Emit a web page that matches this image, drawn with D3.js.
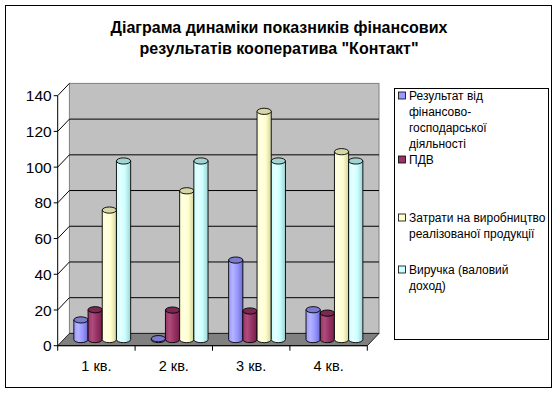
<!DOCTYPE html>
<html><head><meta charset="utf-8">
<script src="https://cdn.jsdelivr.net/npm/d3@7"></script>
<style>
html,body{margin:0;padding:0;background:#fff;}
svg{display:block;font-family:Arial,"Liberation Sans",sans-serif;}
</style></head>
<body><svg id="c" width="559" height="393"></svg>
<script>
const titleLines = ["Діаграма динаміки показників фінансових", "результатів кооператива \"Контакт\""];
const categories = ["1 кв.", "2 кв.", "3 кв.", "4 кв."];
const seriesNames = ["Результат від фінансово-господарської діяльності", "ПДВ", "Затрати на виробництво реалізованої продукції", "Виручка (валовий доход)"];
const legendLines = [["Результат від", "фінансово-", "господарської", "діяльності"], ["ПДВ"], ["Затрати на виробництво", "реалізованої продукції"], ["Виручка (валовий", "доход)"]];
const resultValues = [11, 0.5, 44.5, 16.7];
const vatValues = [16.7, 16.5, 16, 14.8];
const costValues = [72.5, 83.3, 127.8, 105.2];
const revenueValues = [100, 100, 100, 100];
const yTicks = [0, 20, 40, 60, 80, 100, 120, 140];
const seriesValues = [resultValues, vatValues, costValues, revenueValues];

const colors = [
  {base:"#9999ff", light:"#b4b4ff", dark:"#6c6cd4", top:"#7b7bd0"},
  {base:"#993366", light:"#ad4d7c", dark:"#72204a", top:"#7a2952"},
  {base:"#ffffcc", light:"#ffffe6", dark:"#d4d4a4", top:"#d6d6a6"},
  {base:"#ccffff", light:"#e6ffff", dark:"#a0d4d4", top:"#a3d4d4"}
];

const svg = d3.select("#c");
const defs = svg.append("defs");
colors.forEach((c,i)=>{
  const g = defs.append("linearGradient").attr("id","g"+i).attr("x1","0").attr("x2","1").attr("y1","0").attr("y2","0");
  g.append("stop").attr("offset","0").attr("stop-color",c.base);
  g.append("stop").attr("offset","0.3").attr("stop-color",c.light);
  g.append("stop").attr("offset","0.6").attr("stop-color",c.base);
  g.append("stop").attr("offset","1").attr("stop-color",c.dark);
});

// outer border
svg.append("rect").attr("x",5.5).attr("y",5.5).attr("width",546).attr("height",382)
  .attr("fill","#fff").attr("stroke","#000").attr("stroke-width",1);

// title
svg.append("g").selectAll("text").data(titleLines).join("text")
  .attr("x",279).attr("y",(d,i)=>32.5+i*21.5).attr("text-anchor","middle")
  .attr("font-size","16px").attr("font-weight","bold").text(d=>d);

const X0 = 57.7, X1 = 367.3, DX = 11.7, DY = -12.3;
const y = d3.scaleLinear().domain([0,140]).range([345.7,95.7]);
const x0 = d3.scaleBand().domain(categories).range([X0,X1]).padding(0);
const x1 = d3.scaleBand().domain(d3.range(seriesNames.length)).range([0,x0.bandwidth()]).paddingInner(0).paddingOuter(0.725);

const plot = svg.append("g");
// side wall
plot.append("path").attr("d",`M${X0},${y(0)} L${X0},${y(140)} L${X0+DX},${y(140)+DY} L${X0+DX},${y(0)+DY} Z`)
  .attr("fill","#fff").attr("stroke","none");
// back wall
plot.append("rect").attr("x",X0+DX).attr("y",y(140)+DY).attr("width",X1-X0).attr("height",y(0)-y(140))
  .attr("fill","#c0c0c0").attr("stroke","#808080");
// gridlines back + side diagonals
yTicks.filter(t=>t>0).forEach(t=>{
  if (t<140) plot.append("line").attr("x1",X0+DX).attr("x2",X1+DX).attr("y1",y(t)+DY).attr("y2",y(t)+DY).attr("stroke","#000");
  plot.append("line").attr("x1",X0).attr("x2",X0+DX).attr("y1",y(t)).attr("y2",y(t)+DY).attr("stroke","#000");
});
// floor
plot.append("path").attr("d",`M${X0},${y(0)} L${X1},${y(0)} L${X1+DX},${y(0)+DY} L${X0+DX},${y(0)+DY} Z`)
  .attr("fill","#808080").attr("stroke","#000").attr("stroke-width",0.8);

// y axis
const ax = plot.append("g");
ax.append("line").attr("x1",X0).attr("x2",X0).attr("y1",y(0)).attr("y2",y(140)).attr("stroke","#000");
ax.selectAll("line.t").data(yTicks).join("line").attr("class","t")
  .attr("x1",X0-4).attr("x2",X0).attr("y1",d=>y(d)).attr("y2",d=>y(d)).attr("stroke","#000");
ax.selectAll("text").data(yTicks).join("text")
  .attr("x",X0-6).attr("y",d=>y(d)).attr("dy","0.36em").attr("text-anchor","end")
  .attr("font-size","15.5px").text(d=>d);
// x axis
const bx = plot.append("g");
bx.append("line").attr("x1",X0).attr("x2",X1).attr("y1",y(0)).attr("y2",y(0)).attr("stroke","#000");
bx.selectAll("line.t").data(categories.concat(["end"])).join("line").attr("class","t")
  .attr("x1",(d,i)=>X0+i*x0.step()).attr("x2",(d,i)=>X0+i*x0.step())
  .attr("y1",y(0)).attr("y2",y(0)+5).attr("stroke","#000");
bx.selectAll("text").data(categories).join("text")
  .attr("x",d=>x0(d)+x0.bandwidth()/2).attr("y",y(0)+20).attr("dy","0.36em")
  .attr("text-anchor","middle").attr("font-size","14.5px").text(d=>d);

// cylinders
const ry = 3.1;
const bars = [];
categories.forEach((c,ci)=>{
  seriesValues.forEach((vals,si)=>{
    bars.push({c, ci, si, v: vals[ci]});
  });
});
const bg = plot.append("g");
bars.forEach(b=>{
  const w = x1.bandwidth();
  const left = x0(b.c) + x1(b.si) + DX/2;
  const cx = left + w/2, rx = w/2;
  const base = y(0) + DY/2, top = y(b.v) + DY/2;
  const g = bg.append("g");
  g.append("path").attr("d",`M${left},${top} L${left},${base} A${rx},${ry} 0 0 0 ${left+w},${base} L${left+w},${top} Z`)
    .attr("fill",`url(#g${b.si})`).attr("stroke","#000").attr("stroke-width",0.9);
  g.append("ellipse").attr("cx",cx).attr("cy",top).attr("rx",rx).attr("ry",ry)
    .attr("fill",colors[b.si].top).attr("stroke","#000").attr("stroke-width",0.9);
});

// legend
const LX = 394.5, LY = 88.5, LW = 154, LH = 251;
const lg = svg.append("g");
lg.append("rect").attr("x",LX).attr("y",LY).attr("width",LW).attr("height",LH).attr("fill","#fff").attr("stroke","#000");
const entryY = [95.5, 159.5, 217.5, 269.5];
legendLines.forEach((lines,i)=>{
  lg.append("rect").attr("x",398.5).attr("y",entryY[i]-3.5).attr("width",7).attr("height",7)
    .attr("fill",colors[i].base).attr("stroke","#000").attr("stroke-width",0.8);
  lines.forEach((t,j)=>{
    lg.append("text").attr("x",409).attr("y",entryY[i]+j*16).attr("dy","0.36em")
      .attr("font-size","12px").text(t);
  });
});
</script></body></html>
